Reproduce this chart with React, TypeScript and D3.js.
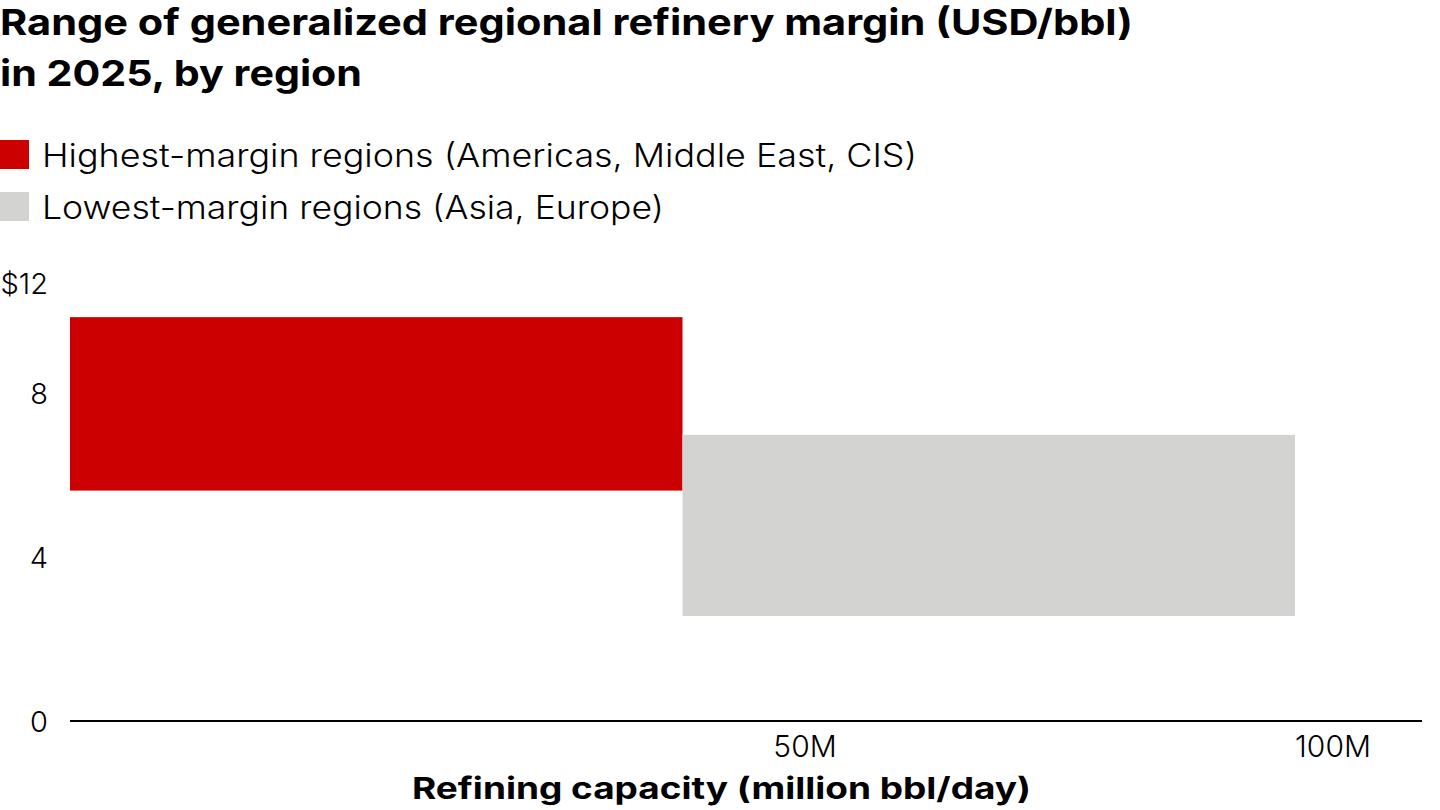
import React from "react";
import * as d3 from "d3";

const regions = ["Highest-margin regions (Americas, Middle East, CIS)", "Lowest-margin regions (Asia, Europe)"];
const capStart = [0, 50];
const capEnd = [50, 100];
const marginLow = [5.62, 2.56];
const marginHigh = [9.85, 6.98];
const colors = ["#CC0000", "#D3D3D2"];
const yTicks = [0, 4, 8, 12];
const yTickLabels = ["0", "4", "8", "$12"];
const xTicks = [50, 100];
const xTickLabels = ["50M", "100M"];
const title = ["Range of generalized regional refinery margin (USD/bbl)", "in 2025, by region"];
const xTitle = "Refining capacity (million bbl/day)";

const titleWidths = [1133, 362];
const legendWidths = [875, 622];
const xTitleWidth = 619;

export default function App() {
  const W = 1440, H = 810;
  const x = d3.scaleLinear().domain([0, 100]).range([70, 1295]);
  const xLabel = d3.scaleLinear().domain([0, 100]).range([277, 1333]);
  const y = d3.scaleLinear().domain([0, 12]).range([721, 229]);
  const plotTopLabel = 283;
  const sans = "Inter, 'Open Sans', sans-serif";
  return (
    <svg width={W} height={H} style={{ position: "absolute", left: 0, top: 0, background: "#fff" }}>
      <g fontFamily={sans}>
        {title.map((t, i) => (
          <text key={i} x={0} y={35 + i * 51} fontSize={36} fontWeight={700} fill="#000"
            textLength={titleWidths[i]} lengthAdjust="spacingAndGlyphs">{t}</text>
        ))}
        {regions.map((r, i) => (
          <g key={r}>
            <rect x={0} y={140 + i * 52} width={29} height={29} fill={colors[i]} />
            <text x={42} y={167 + i * 52} fontSize={32} fontWeight={300} fill="#000"
              textLength={legendWidths[i]} lengthAdjust="spacingAndGlyphs">{r}</text>
          </g>
        ))}
        {regions.map((r, i) => (
          <rect key={"b" + i} x={x(capStart[i])} y={y(marginHigh[i])} width={x(capEnd[i]) - x(capStart[i])}
            height={y(marginLow[i]) - y(marginHigh[i])} fill={colors[i]} />
        ))}
        <line x1={70} x2={1422} y1={y(0)} y2={y(0)} stroke="#000" strokeWidth={2} />
        {yTicks.map((v, i) => (
          <text key={v} x={48} y={Math.max(y(v), plotTopLabel)} dominantBaseline="central" textAnchor="end" fontSize={29} fontWeight={300} fill="#000">{yTickLabels[i]}</text>
        ))}
        {xTicks.map((v, i) => (
          <text key={v} x={xLabel(v)} y={746} dominantBaseline="central" textAnchor="middle" fontSize={30} fontWeight={300} fill="#000">{xTickLabels[i]}</text>
        ))}
        <text x={412} y={799} fontSize={30} fontWeight={700} fill="#000"
          textLength={xTitleWidth} lengthAdjust="spacingAndGlyphs">{xTitle}</text>
      </g>
    </svg>
  );
}
